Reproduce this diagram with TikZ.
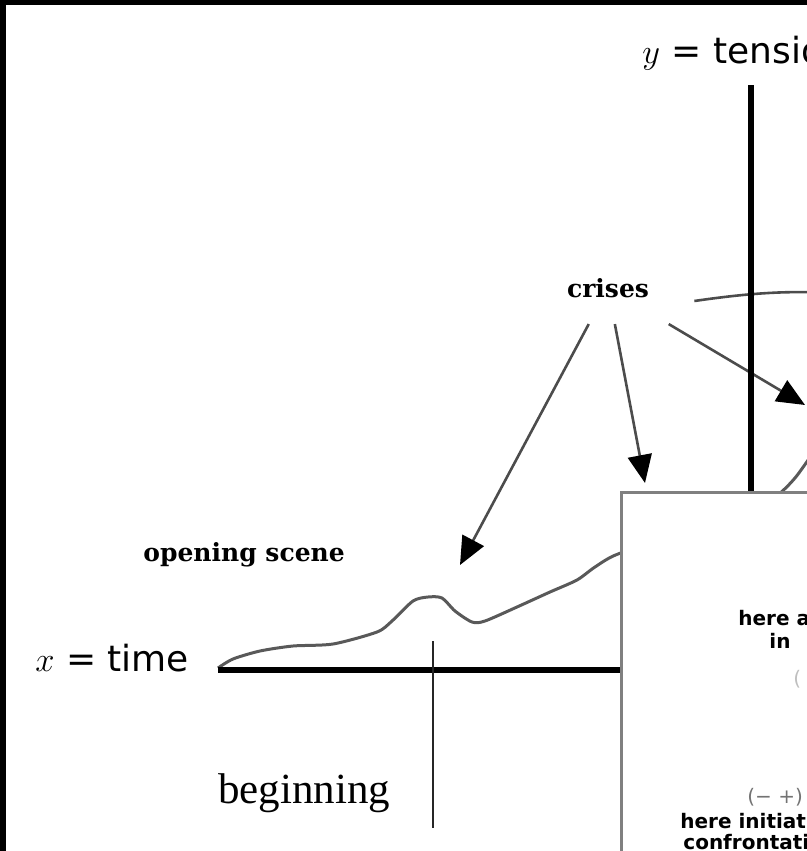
\documentclass[tikz,border=0pt]{standalone}
\usepackage{fontspec}
\usepackage{tikz}
\usetikzlibrary{arrows.meta,positioning}

\newfontfamily\axisfont{DejaVu Sans}
\newfontfamily\phasefont{Liberation Serif}
\newfontfamily\notefont{DejaVu Serif}

\begin{document}
\begin{tikzpicture}[x=0.5pt,y=-0.5pt,>={Triangle[length=14pt,width=12pt,color=black]},
  axis/.style={line width=3pt,line cap=butt},
  storyline/.style={line width=1.5pt,draw=black!65,line join=round},
  pointer/.style={line width=1.3pt,draw=black!70},
  caption/.style={font=\axisfont\fontsize{18}{22}\selectfont,inner sep=0pt,anchor=base west},
  note/.style={font=\notefont\bfseries\fontsize{12.5}{15}\selectfont,inner sep=0pt},
  remark/.style={font=\axisfont\bfseries\fontsize{10}{12}\selectfont,inner sep=0pt,anchor=base west},
  panel/.style={draw=black!50,line width=1.5pt,fill=white,minimum width=150pt,minimum height=200pt,anchor=north west}]
  \useasboundingbox (0,0) rectangle (807,851);
  \clip (0,0) rectangle (807,851);
  \fill[black] (0,0) rectangle (807,5);
  \fill[black] (0,0) rectangle (6,851);

  \coordinate (origin) at (218,670);
  \coordinate (xend) at (900,670);
  \coordinate (ytop) at (751,85);
  \coordinate (ybase) at (751,670);
  \coordinate (critA) at (460,565);
  \coordinate (critB) at (645,483);
  \coordinate (critC) at (805,405);
  \coordinate (critD) at (900,300);

  \draw[storyline] plot[smooth,tension=0.45] coordinates {(218,668) (233,659) (260,651) (293,646)
    (333,644) (377,632) (392,621) (413,601) (428,597) (442,598) (455,611) (472,622) (485,621)
    (517,607) (550,592) (577,580) (595,567) (618,554) (680,535) (740,515) (775,497) (795,478) (815,450)};

  \node[note,inner xsep=22.5pt,inner ysep=13pt] (crises) at (608,288) {crises};
  \node[note,anchor=base west] (opening) at (143,561) {opening scene};
  \path[->] (crises) edge[pointer] (critA)
                     edge[pointer] (critB)
                     edge[pointer] (critC);
  \draw[pointer] ([yshift=-6.5pt]crises.east) to[bend left=8] (critD);

  \draw[axis] (origin) -- (xend);
  \draw[axis] (ytop) -- (ybase);
  \draw[line width=1pt,black!85] (433,641) -- (433,828);

  \node[caption] (xlabel) at (35,671) {$x$ = time};
  \node[caption] (ylabel) at (642,63) {$y$ = tension};
  \node[font=\phasefont\fontsize{21.5}{26}\selectfont,inner sep=0pt,anchor=base west] (beginning) at (218,803) {beginning};

  \node[panel] (panel) at (620,491) {};
  \node[remark] (noteA) at (738,625) {here a};
  \node[remark] (noteB) at (769,648) {in};
  \node[remark,font=\axisfont\fontsize{10}{12}\selectfont,text=black!25] (noteC) at (793,685) {(};
  \node[remark,font=\axisfont\fontsize{10}{12}\selectfont,text=black!55] (noteD) at (747,803) {(− +)};
  \node[remark] (noteE) at (680,828) {here initiat};
  \node[remark] (noteF) at (683,849) {confrontati};
\end{tikzpicture}
\end{document}
